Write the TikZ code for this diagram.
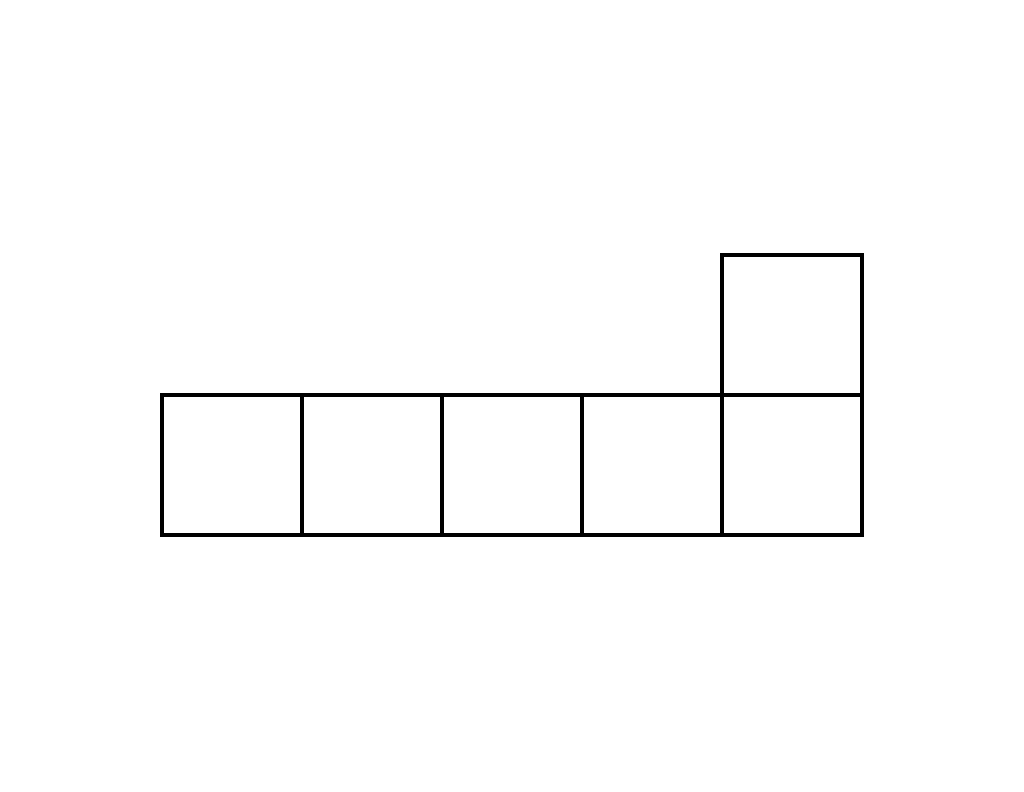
\documentclass[tikz,border=0pt]{standalone}
\begin{document}
\begin{tikzpicture}[x=1.4cm,y=1.4cm]
	\useasboundingbox (-1.157,-1.829) rectangle (6.157,3.821);
	\draw[line width=1.1pt](0,0)--(5,0)--(5,1)--(0,1)--cycle;
	\draw[line width=1.1pt](1,0)--(1,1);
	\draw[line width=1.1pt](2,0)--(2,1);
	\draw[line width=1.1pt](3,0)--(3,1);
	\draw[line width=1.1pt](4,0)--(4,1);
	\draw[line width=1.1pt](4,1)--(4,2)--(5,2)--(5,1);
\end{tikzpicture}
\end{document}
